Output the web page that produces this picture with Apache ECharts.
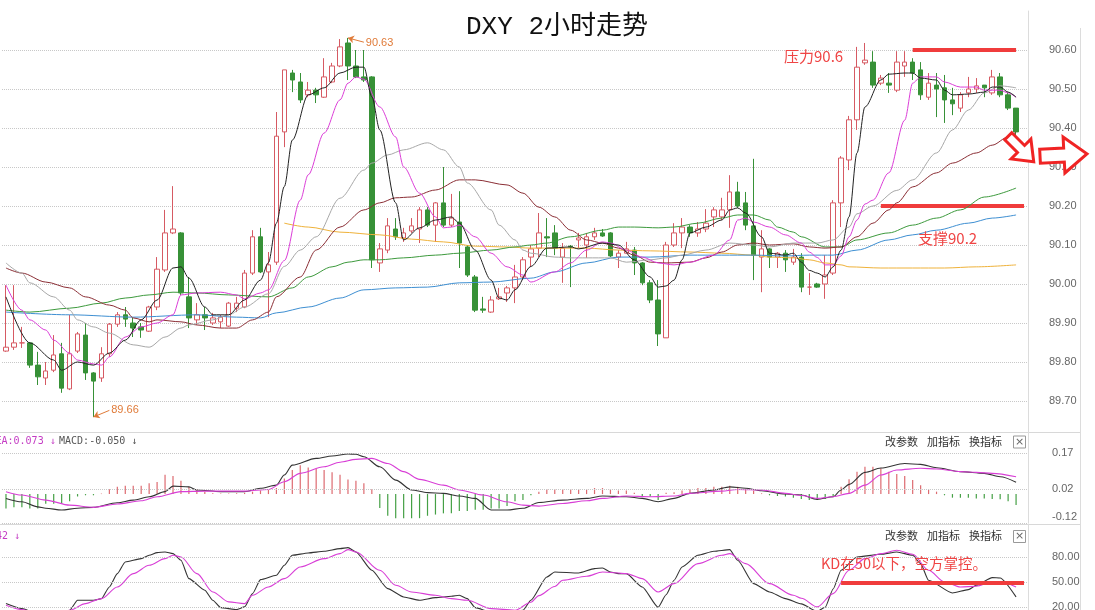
<!DOCTYPE html>
<html><head><meta charset="utf-8">
<script src="https://cdn.jsdelivr.net/npm/echarts@6/dist/echarts.min.js"></script>
<style>html,body{margin:0;padding:0;background:#fff}#c{width:1095px;height:610px}</style>
</head><body><div id="c"></div>
<script>
// ---- data ----
const titleText = 'DXY 2小时走势';
const categories = Array.from({length: 129}, (_, i) => 'K' + (i + 1));
// [open, close, low, high]
const candles = [
[89.828,89.838,89.826,89.997],[89.838,89.849,89.831,89.997],[89.849,89.849,89.836,89.890],[89.849,89.792,89.785,89.851],
[89.792,89.762,89.741,89.826],[89.759,89.777,89.741,89.800],[89.779,89.818,89.774,89.869],[89.821,89.733,89.721,89.849],
[89.731,89.821,89.728,89.921],[89.828,89.872,89.823,89.877],[89.869,89.772,89.754,89.900],[89.772,89.751,89.659,89.774],
[89.759,89.821,89.749,89.838],[89.821,89.897,89.813,89.900],[89.897,89.921,89.890,89.928],[89.921,89.910,89.890,89.941],
[89.900,89.887,89.864,89.913],[89.890,89.882,89.862,89.900],[89.879,89.941,89.877,89.944],[89.941,90.038,89.933,90.069],
[90.036,90.131,90.031,90.190],[90.131,90.141,90.128,90.251],[90.131,89.977,89.972,90.133],[89.967,89.913,89.887,90.018],
[89.908,89.921,89.895,89.951],[89.921,89.913,89.882,89.941],[89.900,89.913,89.895,89.926],[89.903,89.915,89.887,89.921],
[89.892,89.951,89.890,89.954],[89.938,89.951,89.928,89.967],[89.941,90.028,89.938,90.036],[90.028,90.121,90.023,90.138],
[90.121,90.031,90.028,90.144],[90.031,90.049,89.915,90.082],[90.056,90.379,90.049,90.441],[90.390,90.549,90.351,90.549],
[90.541,90.523,90.492,90.549],[90.518,90.472,90.464,90.541],[90.485,90.497,90.479,90.518],[90.497,90.485,90.464,90.503],
[90.479,90.531,90.477,90.579],[90.518,90.559,90.515,90.567],[90.559,90.608,90.556,90.628],[90.618,90.559,90.523,90.631],
[90.559,90.531,90.528,90.600],[90.531,90.523,90.518,90.600],[90.531,90.062,90.041,90.533],[90.054,90.090,90.031,90.105],
[90.087,90.149,90.079,90.169],[90.141,90.121,90.113,90.169],[90.118,90.131,90.108,90.144],[90.136,90.149,90.131,90.169],
[90.141,90.190,90.105,90.197],[90.190,90.151,90.146,90.197],[90.151,90.208,90.108,90.210],[90.208,90.151,90.146,90.300],
[90.151,90.169,90.146,90.231],[90.159,90.105,90.041,90.238],[90.095,90.023,90.018,90.100],[90.018,89.933,89.928,90.023],
[89.936,89.933,89.926,89.967],[89.928,89.959,89.926,89.969],[89.962,89.967,89.959,89.990],[89.977,89.990,89.954,89.995],
[89.990,90.018,89.951,90.049],[90.018,90.062,90.010,90.069],[90.069,90.090,90.044,90.100],[90.092,90.131,90.069,90.182],
[90.121,90.118,90.069,90.169],[90.131,90.092,90.074,90.151],[90.069,90.092,90.003,90.105],[90.097,90.095,89.992,90.100],
[90.113,90.118,90.092,90.131],[90.100,90.121,90.067,90.131],[90.121,90.131,90.113,90.144],[90.131,90.123,90.121,90.141],
[90.131,90.072,90.069,90.133],[90.069,90.079,90.041,90.087],[90.079,90.090,90.079,90.108],[90.087,90.054,90.023,90.095],
[90.054,90.003,89.997,90.056],[90.003,89.959,89.951,90.010],[89.959,89.872,89.841,90.010],[89.862,90.100,89.862,90.108],
[90.100,90.131,90.095,90.156],[90.131,90.146,90.092,90.169],[90.146,90.131,90.121,90.151],[90.131,90.141,90.121,90.159],
[90.141,90.156,90.133,90.192],[90.172,90.190,90.146,90.197],[90.172,90.190,90.164,90.221],[90.190,90.236,90.144,90.279],
[90.236,90.200,90.195,90.262],[90.208,90.151,90.138,90.236],[90.149,90.074,90.010,90.321],[90.069,90.090,89.979,90.138],
[90.090,90.069,90.041,90.092],[90.069,90.079,90.041,90.082],[90.079,90.062,90.031,90.087],[90.056,90.069,90.049,90.090],
[90.069,89.992,89.979,90.079],[89.992,89.992,89.972,90.028],[90.000,89.992,89.990,90.003],[90.000,90.023,89.962,90.074],
[90.028,90.208,90.023,90.215],[90.208,90.323,90.146,90.328],[90.318,90.421,90.292,90.431],[90.421,90.556,90.395,90.608],
[90.567,90.574,90.562,90.618],[90.569,90.510,90.503,90.597],[90.515,90.528,90.510,90.536],[90.515,90.510,90.490,90.541],
[90.497,90.569,90.492,90.597],[90.559,90.569,90.531,90.597],[90.569,90.541,90.523,90.579],[90.549,90.485,90.472,90.569],
[90.479,90.515,90.472,90.541],[90.510,90.500,90.428,90.541],[90.503,90.472,90.413,90.536],[90.472,90.462,90.433,90.503],
[90.451,90.485,90.441,90.492],[90.490,90.500,90.479,90.531],[90.500,90.508,90.490,90.528],[90.510,90.503,90.479,90.510],
[90.490,90.531,90.485,90.549],[90.531,90.485,90.479,90.541],[90.485,90.451,90.446,90.490],[90.451,90.390,90.369,90.451]
];
// moving averages: [candle index, value]
const maBlack = [[0,89.967],[3,89.849],[6,89.805],[7,89.779],[9,89.800],[11,89.792],[13,89.823],[15,89.856],[17,89.908],[19,89.959],[21,90.041],[22,90.044],[23,90.015],[25,89.941],[26,89.921],[28,89.921],[30,89.959],[32,90.010],[33,90.055],[34,90.156],[35,90.250],[36,90.369],[38,90.485],[40,90.503],[42,90.541],[44,90.556],[45,90.556],[46,90.480],[47,90.395],[49,90.208],[50,90.113],[52,90.144],[54,90.164],[56,90.172],[57,90.156],[59,90.087],[61,90.010],[62,89.964],[63,89.959],[64,89.985],[66,90.045],[68,90.092],[71,90.095],[72,90.090],[75,90.105],[77,90.100],[79,90.062],[81,90.018],[82,89.992],[83,89.995],[84,90.010],[85,90.062],[86,90.131],[88,90.146],[90,90.164],[91,90.190],[92,90.195],[93,90.182],[95,90.121],[96,90.079],[98,90.074],[99,90.079],[100,90.056],[101,90.035],[102,90.028],[103,90.018],[104,90.044],[105,90.087],[106,90.172],[107,90.336],[108,90.454],[110,90.523],[111,90.538],[113,90.541],[114,90.541],[115,90.528],[117,90.523],[118,90.497],[119,90.485],[121,90.487],[123,90.492],[124,90.505],[125,90.505],[126,90.492],[127,90.479]];
const maMagenta = [[0,89.997],[2,89.933],[3,89.908],[5,89.882],[6,89.856],[8,89.823],[9,89.805],[11,89.795],[12,89.792],[13,89.813],[15,89.864],[17,89.890],[19,89.900],[21,89.921],[22,89.972],[24,89.977],[27,89.979],[29,89.972],[30,89.962],[32,89.977],[33,89.985],[35,90.060],[37,90.215],[38,90.280],[40,90.387],[42,90.472],[43,90.515],[44,90.531],[45,90.525],[47,90.454],[49,90.377],[50,90.300],[52,90.233],[54,90.172],[55,90.144],[56,90.146],[57,90.151],[59,90.121],[61,90.079],[63,90.044],[65,90.023],[66,90.005],[69,90.031],[71,90.054],[73,90.087],[75,90.108],[76,90.105],[78,90.087],[80,90.069],[82,90.054],[84,90.049],[86,90.056],[89,90.074],[91,90.113],[92,90.164],[93,90.169],[94,90.159],[96,90.146],[98,90.126],[100,90.105],[101,90.082],[102,90.068],[103,90.049],[104,90.049],[105,90.072],[106,90.121],[107,90.164],[108,90.205],[109,90.215],[111,90.285],[113,90.420],[114,90.515],[115,90.531],[117,90.531],[118,90.518],[120,90.505],[122,90.505],[123,90.497],[125,90.497],[126,90.490],[127,90.479]];
const maGray = [[0,90.054],[2,90.028],[3,90.003],[6,89.967],[8,89.933],[9,89.908],[11,89.890],[13,89.874],[16,89.844],[18,89.838],[20,89.864],[22,89.887],[23,89.895],[26,89.908],[28,89.921],[30,89.941],[33,89.975],[35,90.045],[37,90.087],[39,90.121],[42,90.220],[45,90.292],[46,90.310],[48,90.331],[50,90.344],[53,90.362],[55,90.344],[57,90.300],[58,90.259],[61,90.190],[62,90.151],[64,90.113],[65,90.087],[66,90.079],[69,90.069],[71,90.067],[73,90.067],[76,90.067],[78,90.056],[81,90.062],[83,90.067],[85,90.074],[88,90.087],[91,90.105],[94,90.100],[96,90.095],[99,90.105],[102,90.105],[104,90.113],[106,90.146],[107,90.180],[109,90.200],[112,90.240],[114,90.267],[117,90.336],[119,90.395],[121,90.446],[123,90.490],[125,90.508],[127,90.503]];
const maBrown = [[0,90.041],[2,90.028],[5,90.005],[8,89.990],[10,89.967],[13,89.946],[15,89.933],[16,89.913],[18,89.903],[19,89.908],[22,89.903],[24,89.895],[27,89.887],[29,89.887],[31,89.908],[33,89.928],[34,89.967],[37,90.018],[39,90.087],[42,90.146],[45,90.190],[47,90.208],[49,90.221],[51,90.223],[54,90.241],[57,90.267],[59,90.267],[63,90.254],[65,90.233],[67,90.197],[69,90.172],[71,90.138],[73,90.113],[75,90.105],[77,90.092],[79,90.074],[81,90.056],[83,90.054],[86,90.056],[88,90.067],[90,90.082],[92,90.100],[94,90.105],[96,90.100],[99,90.103],[101,90.095],[103,90.092],[105,90.095],[107,90.121],[109,90.156],[111,90.190],[112,90.208],[114,90.249],[117,90.285],[119,90.310],[122,90.336],[124,90.356],[126,90.377],[127,90.390]];
const maGreen = [[0,89.933],[3,89.928],[8,89.938],[12,89.951],[15,89.964],[18,89.972],[21,89.979],[24,89.977],[28,89.972],[33,89.967],[36,89.990],[38,90.018],[41,90.044],[43,90.056],[45,90.062],[47,90.062],[50,90.067],[54,90.074],[57,90.079],[61,90.087],[64,90.095],[66,90.100],[68,90.105],[71,90.121],[75,90.138],[77,90.146],[79,90.146],[82,90.144],[84,90.146],[87,90.156],[90,90.169],[92,90.177],[94,90.177],[96,90.164],[97,90.146],[99,90.133],[100,90.121],[103,90.095],[105,90.095],[107,90.113],[111,90.131],[114,90.151],[117,90.169],[120,90.190],[123,90.223],[127,90.246]];
const maBlue = [[0,89.928],[8,89.921],[16,89.915],[24,89.921],[29,89.915],[32,89.913],[34,89.926],[38,89.941],[42,89.964],[45,89.985],[49,89.990],[53,89.992],[57,90.003],[61,90.005],[66,90.015],[69,90.031],[73,90.054],[77,90.069],[81,90.069],[86,90.074],[90,90.074],[94,90.074],[98,90.072],[101,90.074],[104,90.074],[107,90.087],[111,90.113],[114,90.126],[117,90.138],[121,90.156],[124,90.169],[127,90.177]];
const maOrange = [[35,90.156],[38,90.146],[42,90.133],[47,90.126],[51,90.115],[55,90.108],[59,90.097],[63,90.095],[66,90.092],[69,90.092],[73,90.092],[77,90.087],[81,90.085],[86,90.082],[90,90.079],[94,90.074],[96,90.069],[99,90.067],[101,90.062],[103,90.054],[105,90.049],[106,90.044],[110,90.041],[114,90.041],[118,90.041],[122,90.044],[127,90.049]];
// MACD
const macdDif = [[0,-0.018],[2,-0.032],[4,-0.053],[5,-0.059],[7,-0.066],[9,-0.059],[11,-0.055],[14,-0.036],[16,-0.025],[18,-0.011],[20,0.010],[21,0.033],[23,0.030],[24,0.017],[27,0.010],[30,0.010],[32,0.024],[34,0.037],[35,0.079],[36,0.120],[39,0.148],[41,0.158],[43,0.166],[44,0.165],[45,0.155],[47,0.113],[49,0.058],[51,0.017],[53,0.006],[55,0.003],[57,-0.008],[59,-0.018],[61,-0.066],[63,-0.066],[65,-0.059],[67,-0.035],[70,-0.025],[73,-0.018],[75,-0.008],[78,-0.011],[80,-0.018],[82,-0.032],[84,-0.018],[86,0.003],[89,0.017],[91,0.030],[93,0.024],[95,0.014],[98,0.000],[100,-0.004],[102,-0.022],[104,-0.011],[105,0.017],[106,0.040],[108,0.090],[110,0.108],[113,0.127],[115,0.123],[117,0.109],[120,0.093],[123,0.086],[125,0.072],[127,0.049]];
const macdDea = [[0,0.010],[2,-0.004],[5,-0.025],[8,-0.046],[11,-0.055],[14,-0.041],[17,-0.028],[19,-0.011],[22,0.010],[25,0.012],[30,0.012],[33,0.019],[35,0.051],[37,0.086],[40,0.113],[42,0.132],[44,0.144],[46,0.148],[48,0.127],[50,0.093],[52,0.061],[55,0.037],[57,0.017],[60,-0.004],[63,-0.032],[65,-0.046],[67,-0.050],[70,-0.039],[73,-0.028],[75,-0.018],[78,-0.008],[81,-0.011],[84,-0.008],[86,0.003],[90,0.012],[92,0.019],[95,0.017],[98,0.003],[100,-0.006],[102,-0.018],[104,-0.011],[106,0.003],[108,0.037],[110,0.079],[112,0.100],[115,0.107],[117,0.104],[120,0.093],[122,0.090],[124,0.086],[127,0.072]];
const macdHist = [-0.06,-0.055,-0.055,-0.06,-0.06,-0.04,-0.04,-0.04,-0.03,-0.01,-0.005,-0.005,0.002,0.02,0.03,0.035,0.035,0.035,0.045,0.05,
0.08,0.075,0.055,0.03,0.02,0.01,0.003,0.002,0.002,0.003,0.005,0.01,0.015,0.02,0.025,0.065,0.1,0.12,0.11,0.105,
0.1,0.09,0.08,0.06,0.055,0.045,0.02,-0.058,-0.09,-0.1,-0.1,-0.1,-0.1,-0.09,-0.085,-0.08,-0.08,-0.07,-0.07,-0.065,
-0.065,-0.06,-0.06,-0.05,-0.03,-0.025,-0.005,0.01,0.02,0.02,0.02,0.02,0.02,0.02,0.025,0.025,0.02,0.015,0.015,0.005,
-0.01,-0.01,-0.025,0.005,0.008,0.015,0.02,0.025,0.025,0.03,0.03,0.035,0.03,0.02,0.015,0.003,-0.005,-0.008,-0.01,-0.015,
-0.02,-0.025,-0.025,-0.02,-0.01,0.03,0.061,0.093,0.113,0.113,0.107,0.093,0.083,0.075,0.058,0.037,0.019,0.01,-0.005,-0.015,
-0.015,-0.015,-0.018,-0.018,-0.02,-0.022,-0.03,-0.045];
// KD
const kdK = [[0,24.4],[2,18.4],[4,12],[6,8],[7,10],[8,16.4],[9,28.4],[11,28.4],[12,30.4],[13,44.4],[14,60.4],[15,74.4],[17,78.4],[18,82.4],[19,85.6],[20,86.4],[21,84.4],[22,76.4],[23,54.4],[25,40.4],[26,28.4],[27,19.6],[29,17.2],[30,20.4],[31,36.4],[32,53.2],[34,58.4],[35,70.4],[36,82.4],[38,85.2],[40,87.2],[42,90.4],[43,91.6],[44,86.4],[46,64.4],[48,42.4],[50,32.4],[52,28.4],[54,31.6],[56,33.2],[57,34.4],[58,30.4],[59,19.6],[61,14],[63,12],[65,16.4],[66,28.4],[68,56.4],[69,62.4],[72,61.2],[74,66.4],[75,67.2],[76,62.4],[77,60.4],[78,60.4],[80,44.4],[82,20],[83,35],[84,52.4],[85,68.4],[87,82.4],[89,87.2],[91,89.2],[92,76.4],[94,48.4],[96,38.4],[98,30.4],[100,24],[102,15],[103,20],[104,42],[105,64.4],[107,80.4],[110,83.6],[112,86.4],[114,82.4],[115,72.4],[116,52.4],[119,37.2],[121,41.2],[122,46.4],[124,55.6],[125,55.2],[127,32.4]];
const kdD = [[0,22.4],[2,17.2],[4,12],[6,10],[8,16.4],[10,24.4],[12,30.4],[14,44.4],[16,60.4],[18,70.4],[20,78.4],[21,82.4],[22,80.4],[24,60.4],[26,38.4],[28,26.4],[30,24.4],[31,34.4],[33,44.4],[35,54.4],[37,68.4],[40,78.4],[42,84.4],[43,89.2],[44,86.4],[47,64.4],[49,46.4],[51,38.4],[54,34.4],[56,30.4],[58,28.4],[61,18.4],[64,16.4],[66,26],[67,34],[69,45],[70,52.4],[73,57.2],[75,62.4],[78,60.4],[80,54.4],[82,38.4],[84,48.4],[87,72.4],[90,82.4],[91,84.4],[93,72.4],[96,48.4],[99,34.4],[100,30.8],[102,20.4],[104,36.4],[106,64.4],[108,78.4],[110,84.4],[112,88.4],[114,83.6],[116,64.4],[118,50.4],[120,44.4],[122,45.2],[124,50.4],[125,50.4],[127,44.4]];
// tick labels
const macdTicks = [0.17, 0.02, -0.12];
const macdTickLabels = ['0.17', '0.02', '-0.12'];
const kdTicks = [80, 50, 20];
const kdTickLabels = ['80.00', '50.00', '20.00'];
// annotations
const pressureLevel = 90.6, pressureSpan = [114, 127];
const supportLevel = 90.2, supportSpan = [110, 128];
const kdLevel = 50, kdSpan = [105, 128];
const highMark = [43, 90.631], lowMark = [11, 89.659];
const macdHeader = ['EA:0.073 ↓', 'MACD:-0.050 ↓'];
const kdHeader = '42 ↓';
const toolTexts = ['改参数', '加指标', '换指标'];

// ---- chart ----
const chart = echarts.init(document.getElementById('c'), null, {renderer: 'canvas'});
const UP = '#d65a63', DOWN = '#379137';
const axisFont = {fontFamily: 'Liberation Sans', fontSize: 11, color: '#666'};
function maLine(data, color, w) {
  return {type: 'line', xAxisIndex: 0, yAxisIndex: 0, data: data, showSymbol: false, smooth: 0.3, smoothMonotone: 'x',
    lineStyle: {color: color, width: w || 1}, z: 5, silent: true};
}
function gridMark(ticks, labels, liftLast) {
  return {silent: true, symbol: ['none', 'none'], animation: false,
    lineStyle: {type: 'dotted', color: '#c8c8c8', width: 1},
    label: {show: true, position: 'end', distance: 24, fontFamily: 'Liberation Sans', fontSize: 11, color: '#666'},
    data: ticks.map((t, i) => ({yAxis: t,
      label: (liftLast && i === ticks.length - 1)
        ? {formatter: '{b|' + labels[i] + '}', rich: {b: {padding: [0, 0, 12, 0], fontFamily: 'Liberation Sans', fontSize: 11, color: '#666'}}}
        : {formatter: labels[i]}}))};
}
const redLine = {color: '#f03c3c', width: 4, type: 'solid'};
const noteColor = '#e07b39';
const noteLabel = {show: true, position: 'end', distance: 2, color: noteColor, fontSize: 11, fontFamily: 'Liberation Sans'};
const noteLine = {color: noteColor, width: 1, type: 'solid'};
const xBase = {type: 'category', data: categories, boundaryGap: true, show: false};

const option = {
  animation: false,
  backgroundColor: '#fff',
  title: {text: titleText, left: 461, top: 9,
    textStyle: {fontFamily: 'Liberation Mono, Noto Sans CJK SC', fontSize: 26, fontWeight: 'normal', color: '#111'}},
  grid: [
    {left: 2, right: 67, top: 11, height: 429},
    {left: 2, right: 67, top: 432, height: 91},
    {left: 2, right: 67, top: 524, height: 86}
  ],
  xAxis: [Object.assign({gridIndex: 0}, xBase), Object.assign({gridIndex: 1}, xBase), Object.assign({gridIndex: 2}, xBase)],
  yAxis: [
    {gridIndex: 0, type: 'value', position: 'right', min: 89.6, max: 90.7, interval: 0.1,
      axisLine: {show: true, lineStyle: {color: '#dcdcdc'}}, axisTick: {show: false},
      axisLabel: Object.assign({formatter: v => v.toFixed(2), margin: 21, showMinLabel: false, showMaxLabel: false}, axisFont),
      splitLine: {show: true, showMinLine: false, showMaxLine: false, lineStyle: {type: 'dotted', color: '#c8c8c8'}}},
    {gridIndex: 1, type: 'value', position: 'right', min: -0.12, max: 0.2574,
      axisLine: {show: true, lineStyle: {color: '#dcdcdc'}}, axisTick: {show: false}, axisLabel: {show: false}, splitLine: {show: false}},
    {gridIndex: 2, type: 'value', position: 'right', min: 16.7, max: 120,
      axisLine: {show: true, lineStyle: {color: '#dcdcdc'}}, axisTick: {show: false}, axisLabel: {show: false}, splitLine: {show: false}}
  ],
  series: [
    {type: 'candlestick', xAxisIndex: 0, yAxisIndex: 0, data: candles, barWidth: 5, z: 3, silent: true,
      itemStyle: {color: '#ffffff', color0: DOWN, borderColor: UP, borderColor0: DOWN, borderWidth: 1},
      markLine: {silent: true, animation: false, symbol: ['none', 'none'], precision: 2,
        data: [
          [{coord: [pressureSpan[0], pressureLevel], lineStyle: redLine, label: {show: false}},
           {coord: [pressureSpan[1], pressureLevel], lineStyle: redLine, label: {show: false}}],
          [{coord: [supportSpan[0], supportLevel], lineStyle: redLine, label: {show: false}},
           {coord: [supportSpan[1], supportLevel], lineStyle: redLine, label: {show: false}}],
          [{coord: highMark, symbol: 'arrow', symbolSize: 6, lineStyle: noteLine, label: Object.assign({formatter: highMark[1].toFixed(2)}, noteLabel)},
           {coord: [highMark[0] + 2, highMark[1] - 0.011], symbol: 'none', lineStyle: noteLine, label: Object.assign({formatter: highMark[1].toFixed(2)}, noteLabel)}],
          [{coord: lowMark, symbol: 'arrow', symbolSize: 6, lineStyle: noteLine, label: Object.assign({formatter: lowMark[1].toFixed(2)}, noteLabel)},
           {coord: [lowMark[0] + 2, lowMark[1] + 0.017], symbol: 'none', lineStyle: noteLine, label: Object.assign({formatter: lowMark[1].toFixed(2)}, noteLabel)}]
        ]}},
    maLine(maOrange, '#efb23a'),
    maLine(maBlue, '#3e8fd2'),
    maLine(maGreen, '#3d9a3d'),
    maLine(maBrown, '#8b2e35'),
    maLine(maGray, '#a8a8a8'),
    maLine(maMagenta, '#dc3ed8'),
    maLine(maBlack, '#222222'),
    {type: 'bar', xAxisIndex: 1, yAxisIndex: 1, data: macdHist, barWidth: 1.2, silent: true,
      itemStyle: {color: p => p.value >= 0 ? '#dd6a70' : '#45a045'}},
    {type: 'line', xAxisIndex: 1, yAxisIndex: 1, data: macdDif, showSymbol: false, smooth: 0.3, smoothMonotone: 'x', silent: true,
      lineStyle: {color: '#333', width: 1.1}, markLine: gridMark(macdTicks, macdTickLabels, true)},
    {type: 'line', xAxisIndex: 1, yAxisIndex: 1, data: macdDea, showSymbol: false, smooth: 0.3, smoothMonotone: 'x', silent: true,
      lineStyle: {color: '#d83ed6', width: 1.1}},
    {type: 'line', xAxisIndex: 2, yAxisIndex: 2, data: kdK, showSymbol: false, smooth: 0.2, smoothMonotone: 'x', silent: true,
      lineStyle: {color: '#333', width: 1.1}, markLine: gridMark(kdTicks, kdTickLabels, false)},
    {type: 'line', xAxisIndex: 2, yAxisIndex: 2, data: kdD, showSymbol: false, smooth: 0.3, smoothMonotone: 'x', silent: true,
      lineStyle: {color: '#d83ed6', width: 1.1},
      markLine: {silent: true, animation: false, symbol: ['none', 'none'],
        data: [[{coord: [kdSpan[0], kdLevel], lineStyle: redLine, label: {show: false}},
                {coord: [kdSpan[1], kdLevel], lineStyle: redLine, label: {show: false}}]]}}
  ],
  graphic: [
    {type: 'line', shape: {x1: 0, y1: 432.5, x2: 1080, y2: 432.5}, style: {stroke: '#d8d8d8', lineWidth: 1}, silent: true},
    {type: 'line', shape: {x1: 0, y1: 524.5, x2: 1080, y2: 524.5}, style: {stroke: '#d8d8d8', lineWidth: 1}, silent: true},
    {type: 'line', shape: {x1: 1080.5, y1: 28, x2: 1080.5, y2: 610}, style: {stroke: '#dcdcdc', lineWidth: 1}, silent: true},
    {type: 'text', x: -4.5, y: 441, silent: true, style: {text: '{a|' + macdHeader[0] + '} {b|' + macdHeader[1] + '}', verticalAlign: 'middle',
      rich: {a: {fontFamily: 'DejaVu Sans Mono', fontSize: 10, fill: '#c43cc4'}, b: {fontFamily: 'DejaVu Sans Mono', fontSize: 10, fill: '#555'}}}},
    {type: 'text', x: -4, y: 536, silent: true, style: {text: kdHeader, verticalAlign: 'middle', fontFamily: 'DejaVu Sans Mono', fontSize: 10, fill: '#c43cc4'}},
    ...[441.5, 536].flatMap(y => [
      {type: 'text', x: 885, y: y, silent: true, style: {text: toolTexts[0], verticalAlign: 'middle', fontFamily: 'Noto Sans CJK SC', fontSize: 11, fill: '#333'}},
      {type: 'text', x: 927, y: y, silent: true, style: {text: toolTexts[1], verticalAlign: 'middle', fontFamily: 'Noto Sans CJK SC', fontSize: 11, fill: '#333'}},
      {type: 'text', x: 969, y: y, silent: true, style: {text: toolTexts[2], verticalAlign: 'middle', fontFamily: 'Noto Sans CJK SC', fontSize: 11, fill: '#333'}},
      {type: 'rect', shape: {x: 1013.5, y: y - 5.5, width: 12, height: 12}, style: {fill: '#fff', stroke: '#999', lineWidth: 1}, silent: true},
      {type: 'text', x: 1019.5, y: y + 0.5, silent: true, style: {text: '×', align: 'center', verticalAlign: 'middle', fontFamily: 'DejaVu Sans', fontSize: 11, fill: '#666'}}
    ]),
    {type: 'text', x: 784, y: 56, silent: true, z: 20, style: {text: '压力90.6', verticalAlign: 'middle', fontFamily: 'Noto Sans CJK SC', fontSize: 15, fill: '#ef4545'}},
    {type: 'text', x: 918, y: 238, silent: true, z: 20, style: {text: '支撑90.2', verticalAlign: 'middle', fontFamily: 'Noto Sans CJK SC', fontSize: 15, fill: '#ef4545'}},
    {type: 'text', x: 821, y: 563, silent: true, z: 20, style: {text: 'KD在50以下，空方掌控。', verticalAlign: 'middle', fontFamily: 'Noto Sans CJK SC', fontSize: 14.5, fill: '#ef4545'}},
    {type: 'polygon', x: 1021, y: 149, rotation: -Math.PI / 4, silent: true, z: 20,
      shape: {points: [[-18, -5], [0, -5], [0, -14], [18, 0], [0, 14], [0, 5], [-18, 5]]},
      style: {fill: '#fff', stroke: '#f02424', lineWidth: 3}},
    {type: 'polygon', x: 1064, y: 155, rotation: 0.05, silent: true, z: 20,
      shape: {points: [[-24, -7], [0, -7], [0, -18], [23, 0], [0, 18], [0, 7], [-24, 7]]},
      style: {fill: '#fff', stroke: '#f02424', lineWidth: 3}}
  ]
};
chart.setOption(option);
</script></body></html>
